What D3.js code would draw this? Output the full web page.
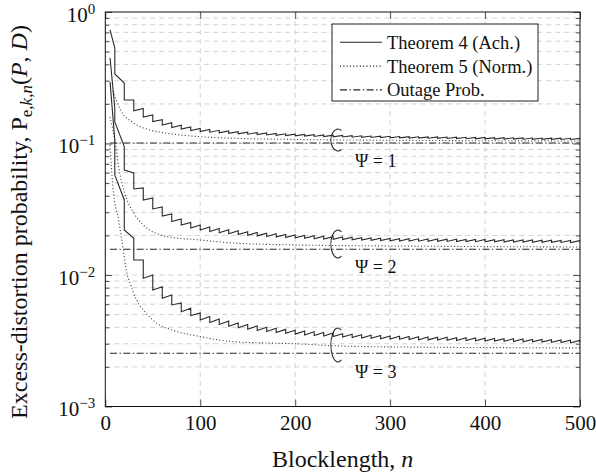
<!DOCTYPE html>
<html>
<head>
<meta charset="utf-8">
<script src="https://cdn.jsdelivr.net/npm/d3@7"></script>
<style>
  body { margin: 0; background: #fff; }
  svg { display: block; font-family: "Liberation Serif", "DejaVu Serif", serif; }
</style>
</head>
<body>
<div id="chart"></div>
<script>
/* CONSTANTS AND GLOBALS */
const width = 596,
  height = 474,
  margin = { top: 12, right: 16, bottom: 67.5, left: 105.3 };

/* DATA */
// blocklengths where the achievability curves jump
const dropN = [10, 20, 30, 40, 50, 60, 70, 80, 90, 100,
  110, 120, 130, 140, 150, 160, 170, 180, 190, 200,
  210, 220, 230, 240, 250, 260, 270, 280, 290, 300,
  310, 320, 330, 340, 350, 360, 370, 380, 390, 400,
  410, 420, 430, 440, 450, 460, 470, 480, 490, 500];

// first point of each Theorem 4 curve (n = 5), Psi = 1, 2, 3
const achStartN = 5;
const achStart = [0.73, 0.447, 0.294];

// Theorem 4, value just before the jump (hi) and just after (lo)
const achHi1 = [0.532, 0.288, 0.214, 0.185, 0.165, 0.152, 0.144, 0.138, 0.1335, 0.130,
  0.1278, 0.1260, 0.1245, 0.1232, 0.1221, 0.1210, 0.1202, 0.1193, 0.1185, 0.1179,
  0.1173, 0.1167, 0.1161, 0.1156, 0.1152, 0.1148, 0.1144, 0.1140, 0.1136, 0.1134,
  0.1130, 0.1128, 0.1125, 0.1123, 0.1121, 0.1119, 0.1117, 0.1115, 0.1113, 0.1111,
  0.1109, 0.1107, 0.1105, 0.1103, 0.1101, 0.1100, 0.1099, 0.1097, 0.1095, 0.1093];
const achLo1 = [0.338, 0.214, 0.177, 0.159, 0.147, 0.138, 0.132, 0.129, 0.1256, 0.1234,
  0.1219, 0.1206, 0.1196, 0.1185, 0.1177, 0.1169, 0.1161, 0.1154, 0.1148, 0.1142,
  0.1138, 0.1132, 0.1128, 0.1125, 0.1121, 0.1117, 0.1115, 0.1111, 0.1109, 0.1105,
  0.1103, 0.1101, 0.1099, 0.1097, 0.1095, 0.1093, 0.1090, 0.1088, 0.1086, 0.1084,
  0.1082, 0.1081, 0.1080, 0.1078, 0.1077, 0.1076, 0.1075, 0.1074, 0.1074, 0.1073];

const achHi2 = [0.1862, 0.0949, 0.0597, 0.0459, 0.0385, 0.0329, 0.0291, 0.02666, 0.02507, 0.0240,
  0.02317, 0.02258, 0.02207, 0.02168, 0.02135, 0.02104, 0.02079, 0.02058, 0.02036, 0.02018,
  0.02000, 0.01986, 0.01972, 0.01959, 0.01945, 0.01935, 0.01925, 0.01915, 0.01905, 0.01898,
  0.01891, 0.01888, 0.01884, 0.01881, 0.01877, 0.01874, 0.01870, 0.01867, 0.01864, 0.01860,
  0.01857, 0.01854, 0.01850, 0.01847, 0.01844, 0.01840, 0.01837, 0.01834, 0.01830, 0.01826];
const achLo2 = [0.1457, 0.0629, 0.0451, 0.0372, 0.0318, 0.0281, 0.0255, 0.0240, 0.02277, 0.02199,
  0.02142, 0.02097, 0.02061, 0.02032, 0.02007, 0.01983, 0.01962, 0.01945, 0.01928, 0.01915,
  0.01901, 0.01888, 0.01879, 0.01868, 0.01858, 0.01849, 0.01843, 0.01833, 0.01826, 0.0182,
  0.01813, 0.01810, 0.01808, 0.01805, 0.01802, 0.01800, 0.01797, 0.01795, 0.01792, 0.01789,
  0.01787, 0.01784, 0.01782, 0.01779, 0.01776, 0.01774, 0.01771, 0.01769, 0.01766, 0.01763];

const achHi3 = [0.1063, 0.0372, 0.01902, 0.0130, 0.0100, 0.00815, 0.00705, 0.00613, 0.00558, 0.00514,
  0.00484, 0.00463, 0.00447, 0.00432, 0.00420, 0.00410, 0.00400, 0.00393, 0.00386, 0.00380,
  0.00375, 0.00370, 0.00365, 0.00362, 0.00358, 0.00355, 0.00352, 0.00349, 0.00347, 0.00344,
  0.00342, 0.00341, 0.00339, 0.00338, 0.00337, 0.00336, 0.00334, 0.00333, 0.00332, 0.00331,
  0.00329, 0.00328, 0.00327, 0.00326, 0.00324, 0.00323, 0.00322, 0.00321, 0.00319, 0.00318];
const achLo3 = [0.0576, 0.0220, 0.0130, 0.00944, 0.00769, 0.00665, 0.00592, 0.00526, 0.00492, 0.00455,
  0.00435, 0.00420, 0.00407, 0.00397, 0.00387, 0.00379, 0.00372, 0.00365, 0.00360, 0.00355,
  0.00350, 0.00347, 0.00343, 0.00340, 0.00337, 0.00335, 0.00332, 0.00330, 0.00328, 0.00326,
  0.00324, 0.00323, 0.00322, 0.00321, 0.00320, 0.00319, 0.00318, 0.00317, 0.00316, 0.00315,
  0.00314, 0.00313, 0.00312, 0.00311, 0.00310, 0.00309, 0.00308, 0.00307, 0.00305, 0.00304];

// Theorem 5 (normal approximation)
const normN1 = [8, 16, 30, 47, 65, 100, 135, 205, 300, 500];
const normP1 = [0.251, 0.180, 0.143, 0.1267, 0.1196, 0.1127, 0.1096, 0.1072, 0.1058, 0.1045];
const normN2 = [5, 10, 15, 20, 30, 40, 65, 100, 135, 205, 300, 500];
const normP2 = [0.159, 0.106, 0.0607, 0.0428, 0.0296, 0.0240, 0.0196, 0.01845, 0.0175, 0.0169, 0.01663, 0.01633];
const normN3 = [5, 8, 14, 19, 22, 26, 33, 43, 54, 70, 100, 135, 205, 240, 280, 500];
const normP3 = [0.0974, 0.0467, 0.0262, 0.01549, 0.01091, 0.00869, 0.00645, 0.00514, 0.00431, 0.00382,
  0.00340, 0.00311, 0.00299, 0.00290, 0.00285, 0.00279];

// outage probability (flat), Psi = 1, 2, 3
const outageN = [5, 500];
const outageP = [0.101, 0.0157, 0.00254];

// labels
const xTicks = [0, 100, 200, 300, 400, 500];
const yMajor = [1, 0.1, 0.01, 0.001];
const yExp = ["0", "\u22121", "\u22122", "\u22123"];
const legendLabels = ["Theorem 4 (Ach.)", "Theorem 5 (Norm.)", "Outage Prob."];
const psiLabels = ["\u03A8 = 1", "\u03A8 = 2", "\u03A8 = 3"];

let svg, xScale, yScale;

init();

/* INITIALIZING FUNCTION */
function init() {
  xScale = d3.scaleLinear()
    .domain([0, 500])
    .range([margin.left, width - margin.right]);

  yScale = d3.scaleLog()
    .domain([0.001, 1])
    .range([height - margin.bottom, margin.top]);

  svg = d3.select("#chart").append("svg")
    .attr("width", width)
    .attr("height", height);

  svg.append("defs").append("clipPath")
    .attr("id", "plot-clip")
    .append("rect")
    .attr("x", margin.left)
    .attr("y", margin.top)
    .attr("width", width - margin.right - margin.left)
    .attr("height", height - margin.bottom - margin.top);

  draw();
}

/* DRAW FUNCTION */
function draw() {
  const x0 = margin.left, x1 = width - margin.right;
  const y0 = margin.top, y1 = height - margin.bottom;

  const isMajor = v => Math.abs(Math.log10(v) - Math.round(Math.log10(v))) < 1e-6;
  const allY = yScale.ticks();
  const yMinor = allY.filter(v => !isMajor(v));

  // + GRID
  const grid = svg.append("g")
    .attr("stroke", "#d2d2d2")
    .attr("stroke-width", 1)
    .attr("stroke-dasharray", "5,4");

  grid.selectAll("line.hgrid")
    .data(allY.filter(v => v < 0.999 && v > 0.00101))
    .join("line")
    .attr("class", "hgrid")
    .attr("x1", x0)
    .attr("x2", x1)
    .attr("y1", d => yScale(d))
    .attr("y2", d => yScale(d));

  grid.selectAll("line.vgrid")
    .data(xTicks.slice(1, -1))
    .join("line")
    .attr("class", "vgrid")
    .attr("x1", d => xScale(d))
    .attr("x2", d => xScale(d))
    .attr("y1", y0)
    .attr("y2", y1);

  // + CURVES
  const plot = svg.append("g").attr("clip-path", "url(#plot-clip)");

  const line = d3.line()
    .x(d => xScale(d.n))
    .y(d => yScale(d.p));

  const smooth = d3.line()
    .x(d => xScale(d.n))
    .y(d => yScale(d.p))
    .curve(d3.curveMonotoneX);

  const achHi = [achHi1, achHi2, achHi3];
  const achLo = [achLo1, achLo2, achLo3];
  const normN = [normN1, normN2, normN3];
  const normP = [normP1, normP2, normP3];

  const achData = achStart.map((s, k) => {
    const pts = [{ n: achStartN, p: s }];
    dropN.forEach((n, i) => {
      pts.push({ n: n, p: achHi[k][i] });
      pts.push({ n: n, p: achLo[k][i] });
    });
    return pts;
  });

  const normData = normN.map((ns, k) => ns.map((n, i) => ({ n: n, p: normP[k][i] })));
  const outData = outageP.map(p => outageN.map(n => ({ n: n, p: p })));

  plot.selectAll("path.outage")
    .data(outData)
    .join("path")
    .attr("class", "outage")
    .attr("d", line)
    .attr("fill", "none")
    .attr("stroke", "#222")
    .attr("stroke-width", 1.1)
    .attr("stroke-dasharray", "7,2.5,1.3,2.5");

  plot.selectAll("path.norm")
    .data(normData)
    .join("path")
    .attr("class", "norm")
    .attr("d", smooth)
    .attr("fill", "none")
    .attr("stroke", "#444")
    .attr("stroke-width", 1.1)
    .attr("stroke-dasharray", "1.1,2.2");

  plot.selectAll("path.ach")
    .data(achData)
    .join("path")
    .attr("class", "ach")
    .attr("d", line)
    .attr("fill", "none")
    .attr("stroke", "#2a2a2a")
    .attr("stroke-width", 1.1)
    .attr("stroke-linejoin", "miter");

  // + AXES (ticks point inward, like pgfplots)
  const tickColor = "#555";

  const xBottom = svg.append("g")
    .attr("transform", `translate(0,${y1})`)
    .call(d3.axisBottom(xScale).tickValues(xTicks).tickSize(-7).tickPadding(9));
  const xTop = svg.append("g")
    .attr("transform", `translate(0,${y0})`)
    .call(d3.axisTop(xScale).tickValues(xTicks).tickSize(-7).tickFormat(""));

  const yLeftMaj = svg.append("g")
    .attr("transform", `translate(${x0},0)`)
    .call(d3.axisLeft(yScale).tickValues(yMajor).tickSize(-7).tickFormat(""));
  const yLeftMin = svg.append("g")
    .attr("transform", `translate(${x0},0)`)
    .call(d3.axisLeft(yScale).tickValues(yMinor).tickSize(-4).tickFormat(""));
  const yRightMaj = svg.append("g")
    .attr("transform", `translate(${x1},0)`)
    .call(d3.axisRight(yScale).tickValues(yMajor).tickSize(-7).tickFormat(""));
  const yRightMin = svg.append("g")
    .attr("transform", `translate(${x1},0)`)
    .call(d3.axisRight(yScale).tickValues(yMinor).tickSize(-4).tickFormat(""));

  [xBottom, xTop, yLeftMaj, yLeftMin, yRightMaj, yRightMin].forEach(g => {
    g.select(".domain").remove();
    g.selectAll(".tick line").attr("stroke", tickColor);
  });

  xBottom.selectAll(".tick text")
    .attr("font-family", "Liberation Serif, serif")
    .attr("font-size", 21)
    .attr("fill", "#111");

  // y tick labels with exponents
  const yLab = svg.append("g")
    .attr("font-size", 21)
    .attr("fill", "#111")
    .attr("text-anchor", "end");

  yMajor.forEach((v, i) => {
    const t = yLab.append("text")
      .attr("x", x0 - 10)
      .attr("y", yScale(v) + 9.5);
    t.append("tspan").text("10");
    t.append("tspan")
      .attr("dy", -8)
      .attr("font-size", 15)
      .text(yExp[i]);
  });

  // frame
  svg.append("rect")
    .attr("x", x0)
    .attr("y", y0)
    .attr("width", x1 - x0)
    .attr("height", y1 - y0)
    .attr("fill", "none")
    .attr("stroke", "#111")
    .attr("stroke-width", 1);

  // + AXIS TITLES
  svg.append("text")
    .attr("x", (x0 + x1) / 2)
    .attr("y", 466.5)
    .attr("text-anchor", "middle")
    .attr("font-size", 24)
    .attr("fill", "#111")
    .call(t => {
      t.append("tspan").text("Blocklength, ");
      t.append("tspan").attr("font-style", "italic").text("n");
    });

  const yTitle = svg.append("text")
    .attr("transform", `translate(27,222) rotate(-90)`)
    .attr("text-anchor", "middle")
    .attr("font-size", 24)
    .attr("fill", "#111");
  yTitle.append("tspan").text("Excess-distortion probability, P");
  yTitle.append("tspan").attr("dy", 5).attr("font-size", 17).text("e,");
  yTitle.append("tspan").attr("font-size", 17).attr("font-style", "italic").text("k");
  yTitle.append("tspan").attr("font-size", 17).text(",");
  yTitle.append("tspan").attr("font-size", 17).attr("font-style", "italic").text("n");
  yTitle.append("tspan").attr("dy", -5).text("(");
  yTitle.append("tspan").attr("font-style", "italic").text("P");
  yTitle.append("tspan").text(", ");
  yTitle.append("tspan").attr("font-style", "italic").text("D");
  yTitle.append("tspan").text(")");

  // + PSI ANNOTATIONS (ellipse arcs + labels)
  const psiN = 245, psiLabelN = 263;
  const psiCenterP = [0.1063, 0.0172, 0.002935];
  const psiRy = [11, 14, 17];
  const psiLabelP = [0.0663, 0.01035, 0.001647];

  psiCenterP.forEach((p, i) => {
    const cx = xScale(psiN), cy = yScale(p), rx = 7, ry = psiRy[i];
    const a0 = Math.PI / 3, a1 = 5 * Math.PI / 3;
    svg.append("path")
      .attr("d", `M${cx + rx * Math.cos(a0)},${cy + ry * Math.sin(a0)} A${rx},${ry} 0 1 1 ${cx + rx * Math.cos(a1)},${cy + ry * Math.sin(a1)}`)
      .attr("fill", "none")
      .attr("stroke", "#222")
      .attr("stroke-width", 1.1);

    svg.append("text")
      .attr("x", xScale(psiLabelN))
      .attr("y", yScale(psiLabelP[i]))
      .attr("font-size", 18)
      .attr("fill", "#111")
      .text(psiLabels[i]);
  });

  // + LEGEND
  const legend = svg.append("g").attr("transform", "translate(332,24)");
  legend.append("rect")
    .attr("width", 206)
    .attr("height", 77)
    .attr("fill", "#fff")
    .attr("stroke", "#222")
    .attr("stroke-width", 1);

  const dashes = [null, "1.1,2.2", "7,2.5,1.3,2.5"];
  legendLabels.forEach((lab, i) => {
    const ly = 18.3 + i * 23.8;
    legend.append("line")
      .attr("x1", 8)
      .attr("x2", 50)
      .attr("y1", ly)
      .attr("y2", ly)
      .attr("stroke", "#222")
      .attr("stroke-width", 1.1)
      .attr("stroke-dasharray", dashes[i]);
    legend.append("text")
      .attr("x", 55)
      .attr("y", ly)
      .attr("dy", "0.35em")
      .attr("font-size", 18.5)
      .attr("fill", "#111")
      .text(lab);
  });
}
</script>
</body>
</html>
